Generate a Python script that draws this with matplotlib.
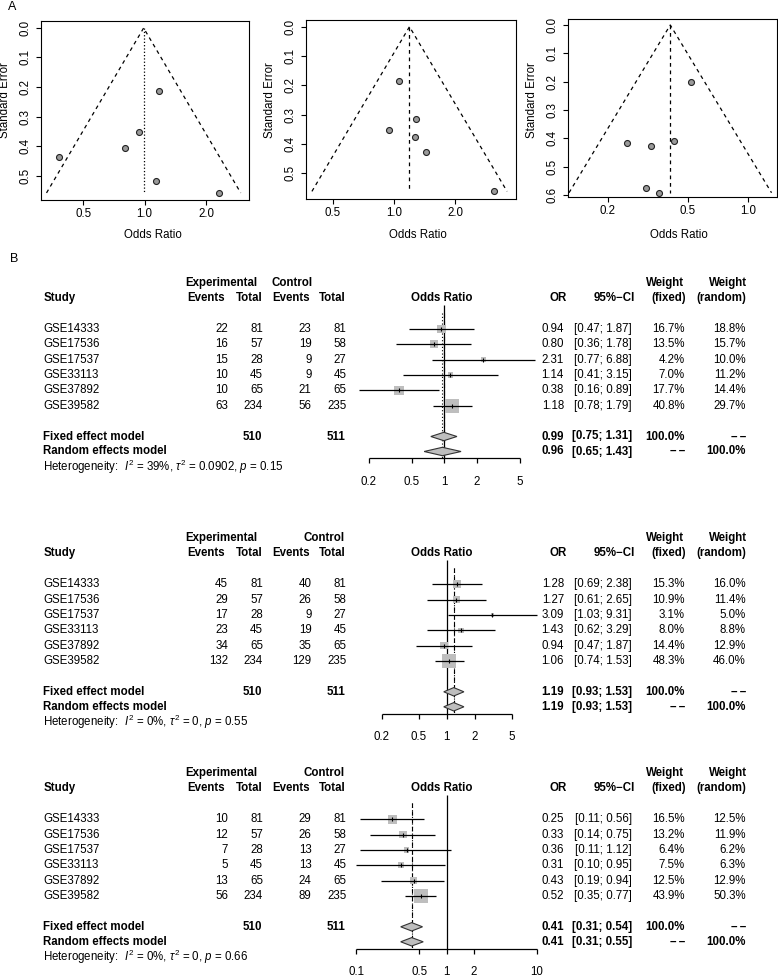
import numpy as np
import matplotlib
matplotlib.use("Agg")
import matplotlib.pyplot as plt
from matplotlib.ticker import NullLocator

plt.rcParams['font.family'] = ['Liberation Sans', 'DejaVu Sans']
plt.rcParams['mathtext.fontset'] = 'custom'
plt.rcParams['mathtext.rm'] = 'Liberation Sans'
plt.rcParams['mathtext.it'] = 'Liberation Sans:italic'
plt.rcParams['mathtext.bf'] = 'Liberation Sans:bold'

W, H = 778, 977
FS = 8.3

# ---------------- data ----------------
studies = ["GSE14333", "GSE17536", "GSE17537", "GSE33113", "GSE37892", "GSE39582"]
exp_total = [81, 57, 28, 45, 65, 234]
ctrl_total = [81, 58, 27, 45, 65, 235]

exp_events_1 = [22, 16, 15, 10, 10, 63]
ctrl_events_1 = [23, 19, 9, 9, 21, 56]
or_1 = [0.94, 0.80, 2.31, 1.14, 0.38, 1.18]
lo_1 = [0.47, 0.36, 0.77, 0.41, 0.16, 0.78]
hi_1 = [1.87, 1.78, 6.88, 3.15, 0.89, 1.79]
wf_1 = [16.7, 13.5, 4.2, 7.0, 17.7, 40.8]
wr_1 = [18.8, 15.7, 10.0, 11.2, 14.4, 29.7]
se_1 = [0.352, 0.408, 0.559, 0.520, 0.438, 0.212]
fixed_1 = [0.99, 0.75, 1.31]
random_1 = [0.96, 0.65, 1.43]
het_1 = ["39%", "0.0902", "0.15"]

exp_events_2 = [45, 29, 17, 23, 34, 132]
ctrl_events_2 = [40, 26, 9, 19, 35, 129]
or_2 = [1.28, 1.27, 3.09, 1.43, 0.94, 1.06]
lo_2 = [0.69, 0.61, 1.03, 0.62, 0.47, 0.74]
hi_2 = [2.38, 2.65, 9.31, 3.29, 1.87, 1.53]
wf_2 = [15.3, 10.9, 3.1, 8.0, 14.4, 48.3]
wr_2 = [16.0, 11.4, 5.0, 8.8, 12.9, 46.0]
se_2 = [0.316, 0.375, 0.562, 0.426, 0.352, 0.185]
fixed_2 = [1.19, 0.93, 1.53]
random_2 = [1.19, 0.93, 1.53]
het_2 = ["0%", "0", "0.55"]

exp_events_3 = [10, 12, 7, 5, 13, 56]
ctrl_events_3 = [29, 26, 13, 13, 24, 89]
or_3 = [0.25, 0.33, 0.36, 0.31, 0.43, 0.52]
lo_3 = [0.11, 0.14, 0.11, 0.10, 0.19, 0.35]
hi_3 = [0.56, 0.75, 1.12, 0.95, 0.94, 0.77]
wf_3 = [16.5, 13.2, 6.4, 7.5, 12.5, 43.9]
wr_3 = [12.5, 11.9, 6.2, 6.3, 12.9, 50.3]
se_3 = [0.415, 0.428, 0.592, 0.574, 0.408, 0.201]
fixed_3 = [0.41, 0.31, 0.54]
random_3 = [0.41, 0.31, 0.55]
het_3 = ["0%", "0", "0.66"]

DASHES = "\u2013\u2009\u2013"

fig = plt.figure(figsize=(W / 100, H / 100), dpi=100)

# overlay axes in pixel coordinates for the text
tx = fig.add_axes([0, 0, 1, 1])
tx.set_xlim(0, W)
tx.set_ylim(H, 0)
tx.axis('off')


def txt(x, y, s, ha='left', bold=False, size=FS, **kw):
    tx.text(x, y, s, ha=ha, va='center', fontsize=size,
            fontweight='bold' if bold else 'normal', **kw)


# ---------------- A: funnel plots ----------------
def funnel(box, xlim, ylim, xticks, yticks, se, ors, centre, centre_ls, p_x, xlab_x):
    l, r, t, b = box
    ax = fig.add_axes([l / W, 1 - b / H, (r - l) / W, (b - t) / H])
    ax.set_xscale('log')
    ax.set_xlim(xlim)
    ax.set_ylim(ylim)
    smax = max(se)
    left = np.exp(np.log(centre) - 1.96 * smax)
    right = np.exp(np.log(centre) + 1.96 * smax)
    ax.plot([left, centre, right], [smax, 0, smax], color='black', lw=0.9, ls=(0, (3, 3)))
    ax.plot([centre, centre], [0, smax], color='black', lw=0.9, ls=centre_ls)
    ax.plot(ors, se, 'o', ms=4.3, mfc='#9a9a9a', mec='#222222', mew=0.8, ls='none')
    ax.set_xticks(xticks)
    ax.set_xticklabels([f"{v:.1f}" for v in xticks])
    ax.xaxis.set_minor_locator(NullLocator())
    ax.set_yticks(yticks)
    ax.set_yticklabels([f"{v:.1f}" for v in yticks])
    ax.tick_params(axis='both', direction='out', length=3.6, width=0.8, labelsize=FS, pad=2)
    ax.tick_params(axis='y', labelrotation=90, pad=3.5)
    for lab in ax.get_yticklabels():
        lab.set_va('center')
    for s in ax.spines.values():
        s.set_linewidth(0.8)
    txt(l - 36, 100, "Standard Error", ha='center', rotation=90)
    txt(xlab_x, 235, "Odds Ratio", ha='center')
    txt(p_x, 43.5, "p>0.05", ha='center', size=10.3)


funnel((41, 249, 21, 200), (0.311, 3.25), (0.583, -0.0237), [0.5, 1.0, 2.0],
       [0.0, 0.1, 0.2, 0.3, 0.4, 0.5], se_1, or_1, fixed_1[0], ':', 208, 153)
funnel((306, 516, 20, 199), (0.370, 3.96), (0.588, -0.0229), [0.5, 1.0, 2.0],
       [0.0, 0.1, 0.2, 0.3, 0.4, 0.5], se_2, or_2, fixed_2[0], (0, (3, 3)), 478, 418)
funnel((568, 777, 19, 197), (0.127, 1.393), (0.607, -0.0212), [0.2, 0.5, 1.0],
       [0.0, 0.1, 0.2, 0.3, 0.4, 0.5, 0.6], se_3, or_3, fixed_3[0], (0, (3, 3)), 749, 679)

txt(8, 7, "A", size=9)
txt(10, 259, "B", size=9)


# ---------------- B: forest plots ----------------
def forest(top, ev_e, ev_c, ors, los, his, wf, wr, fx, rn, het, x1, ppd, ticks, ctrl_left):
    h1, h2 = top, top + 15
    rows = [top + 46 + i * 15.35 for i in range(len(studies))]
    y_fix, y_ran, y_het = top + 153.5, top + 168.5, top + 183.5
    y_axis, y_tl = top + 175.5, top + 199

    # headers
    txt(44, h2, "Study", bold=True)
    txt(257.5, h1, "Experimental", ha='right', bold=True)
    if ctrl_left:
        txt(272, h1, "Control", bold=True)
    else:
        txt(344.5, h1, "Control", ha='right', bold=True)
    txt(225, h2, "Events", ha='right', bold=True)
    txt(262.5, h2, "Total", ha='right', bold=True)
    txt(309.5, h2, "Events", ha='right', bold=True)
    txt(346, h2, "Total", ha='right', bold=True)
    txt(442, h2, "Odds Ratio", ha='center', bold=True)
    txt(566.5, h2, "OR", ha='right', bold=True)
    txt(635, h2, "95%\u2212CI", ha='right', bold=True)
    txt(684.5, h1, "Weight", ha='right', bold=True)
    txt(686, h2, "(fixed)", ha='right', bold=True)
    txt(747, h1, "Weight", ha='right', bold=True)
    txt(746.5, h2, "(random)", ha='right', bold=True)

    for i, y in enumerate(rows):
        txt(43, y, studies[i])
        txt(228, y, str(ev_e[i]), ha='right')
        txt(263, y, str(exp_total[i]), ha='right')
        txt(311.5, y, str(ev_c[i]), ha='right')
        txt(346.5, y, str(ctrl_total[i]), ha='right')
        txt(564, y, f"{ors[i]:.2f}", ha='right')
        txt(632, y, f"[{los[i]:.2f}; {his[i]:.2f}]", ha='right')
        txt(685, y, f"{wf[i]:.1f}%", ha='right')
        txt(746, y, f"{wr[i]:.1f}%", ha='right')

    txt(43, y_fix, "Fixed effect model", bold=True)
    txt(262, y_fix, str(sum(exp_total)), ha='right', bold=True)
    txt(345.5, y_fix, str(sum(ctrl_total)), ha='right', bold=True)
    txt(564, y_fix, f"{fx[0]:.2f}", ha='right', bold=True)
    txt(632, y_fix, f"[{fx[1]:.2f}; {fx[2]:.2f}]", ha='right', bold=True)
    txt(685, y_fix, "100.0%", ha='right', bold=True)
    txt(746, y_fix, DASHES, ha='right', bold=True)
    txt(43, y_ran, "Random effects model", bold=True)
    txt(564, y_ran, f"{rn[0]:.2f}", ha='right', bold=True)
    txt(632, y_ran, f"[{rn[1]:.2f}; {rn[2]:.2f}]", ha='right', bold=True)
    txt(685, y_ran, DASHES, ha='right', bold=True)
    txt(746, y_ran, "100.0%", ha='right', bold=True)
    txt(43, y_het, "Heterogeneity:  $I^2$ = " + het[0] + r", $\tau^2$ = " + het[1]
        + ", $p$ = " + het[2])

    # graphical column
    L, R = 330, 548
    T, B = top + 5, top + 212
    ax = fig.add_axes([L / W, 1 - B / H, (R - L) / W, (B - T) / H])
    ax.set_xscale('log')
    ax.set_xlim(10 ** ((L - x1) / ppd), 10 ** ((R - x1) / ppd))
    ax.set_ylim(B, T)
    ax.axis('off')

    wmax = max(wf)
    side_pt = [13.8 * np.sqrt(w / wmax) * 0.72 for w in wf]
    ax.scatter(ors, rows, marker='s', s=[s ** 2 for s in side_pt], c='#bebebe',
               linewidths=0, zorder=2)
    ax.hlines(rows, los, his, color='black', lw=0.9, zorder=3)
    ax.scatter(ors, rows, marker='|', s=12, c='black', linewidths=0.8, zorder=4)

    ax.vlines(1, top + 22, y_axis, color='black', lw=0.9, zorder=1)
    ax.vlines(fx[0], top + 30, y_axis, color='black', lw=0.8, ls=(0, (4, 3)), zorder=1)
    ax.vlines(rn[0], top + 30, y_axis, color='black', lw=0.8, ls=(0, (1, 2)), zorder=1)

    for est, y in ((fx, y_fix), (rn, y_ran)):
        ax.fill([est[1], est[0], est[2], est[0]], [y, y - 4.2, y, y + 4.2],
                fc='#bebebe', ec='#333333', lw=0.8, zorder=3)

    ax.hlines(y_axis, ticks[0], ticks[-1], color='black', lw=0.9)
    ax.vlines(ticks, y_axis, y_axis + 5, color='black', lw=0.9)
    for t in ticks:
        ax.text(t, y_tl, f"{t:g}", ha='center', va='center', fontsize=FS)


forest(283, exp_events_1, ctrl_events_1, or_1, lo_1, hi_1, wf_1, wr_1, fixed_1, random_1,
       het_1, 444.3, 107.8, [0.2, 0.5, 1, 2, 5], True)
forest(538.3, exp_events_2, ctrl_events_2, or_2, lo_2, hi_2, wf_2, wr_2, fixed_2, random_2,
       het_2, 446.7, 93.2, [0.2, 0.5, 1, 2, 5], False)
forest(773.3, exp_events_3, ctrl_events_3, or_3, lo_3, hi_3, wf_3, wr_3, fixed_3, random_3,
       het_3, 446.7, 90.4, [0.1, 0.5, 1, 2, 10], False)

fig.savefig("out.png", dpi=100)
